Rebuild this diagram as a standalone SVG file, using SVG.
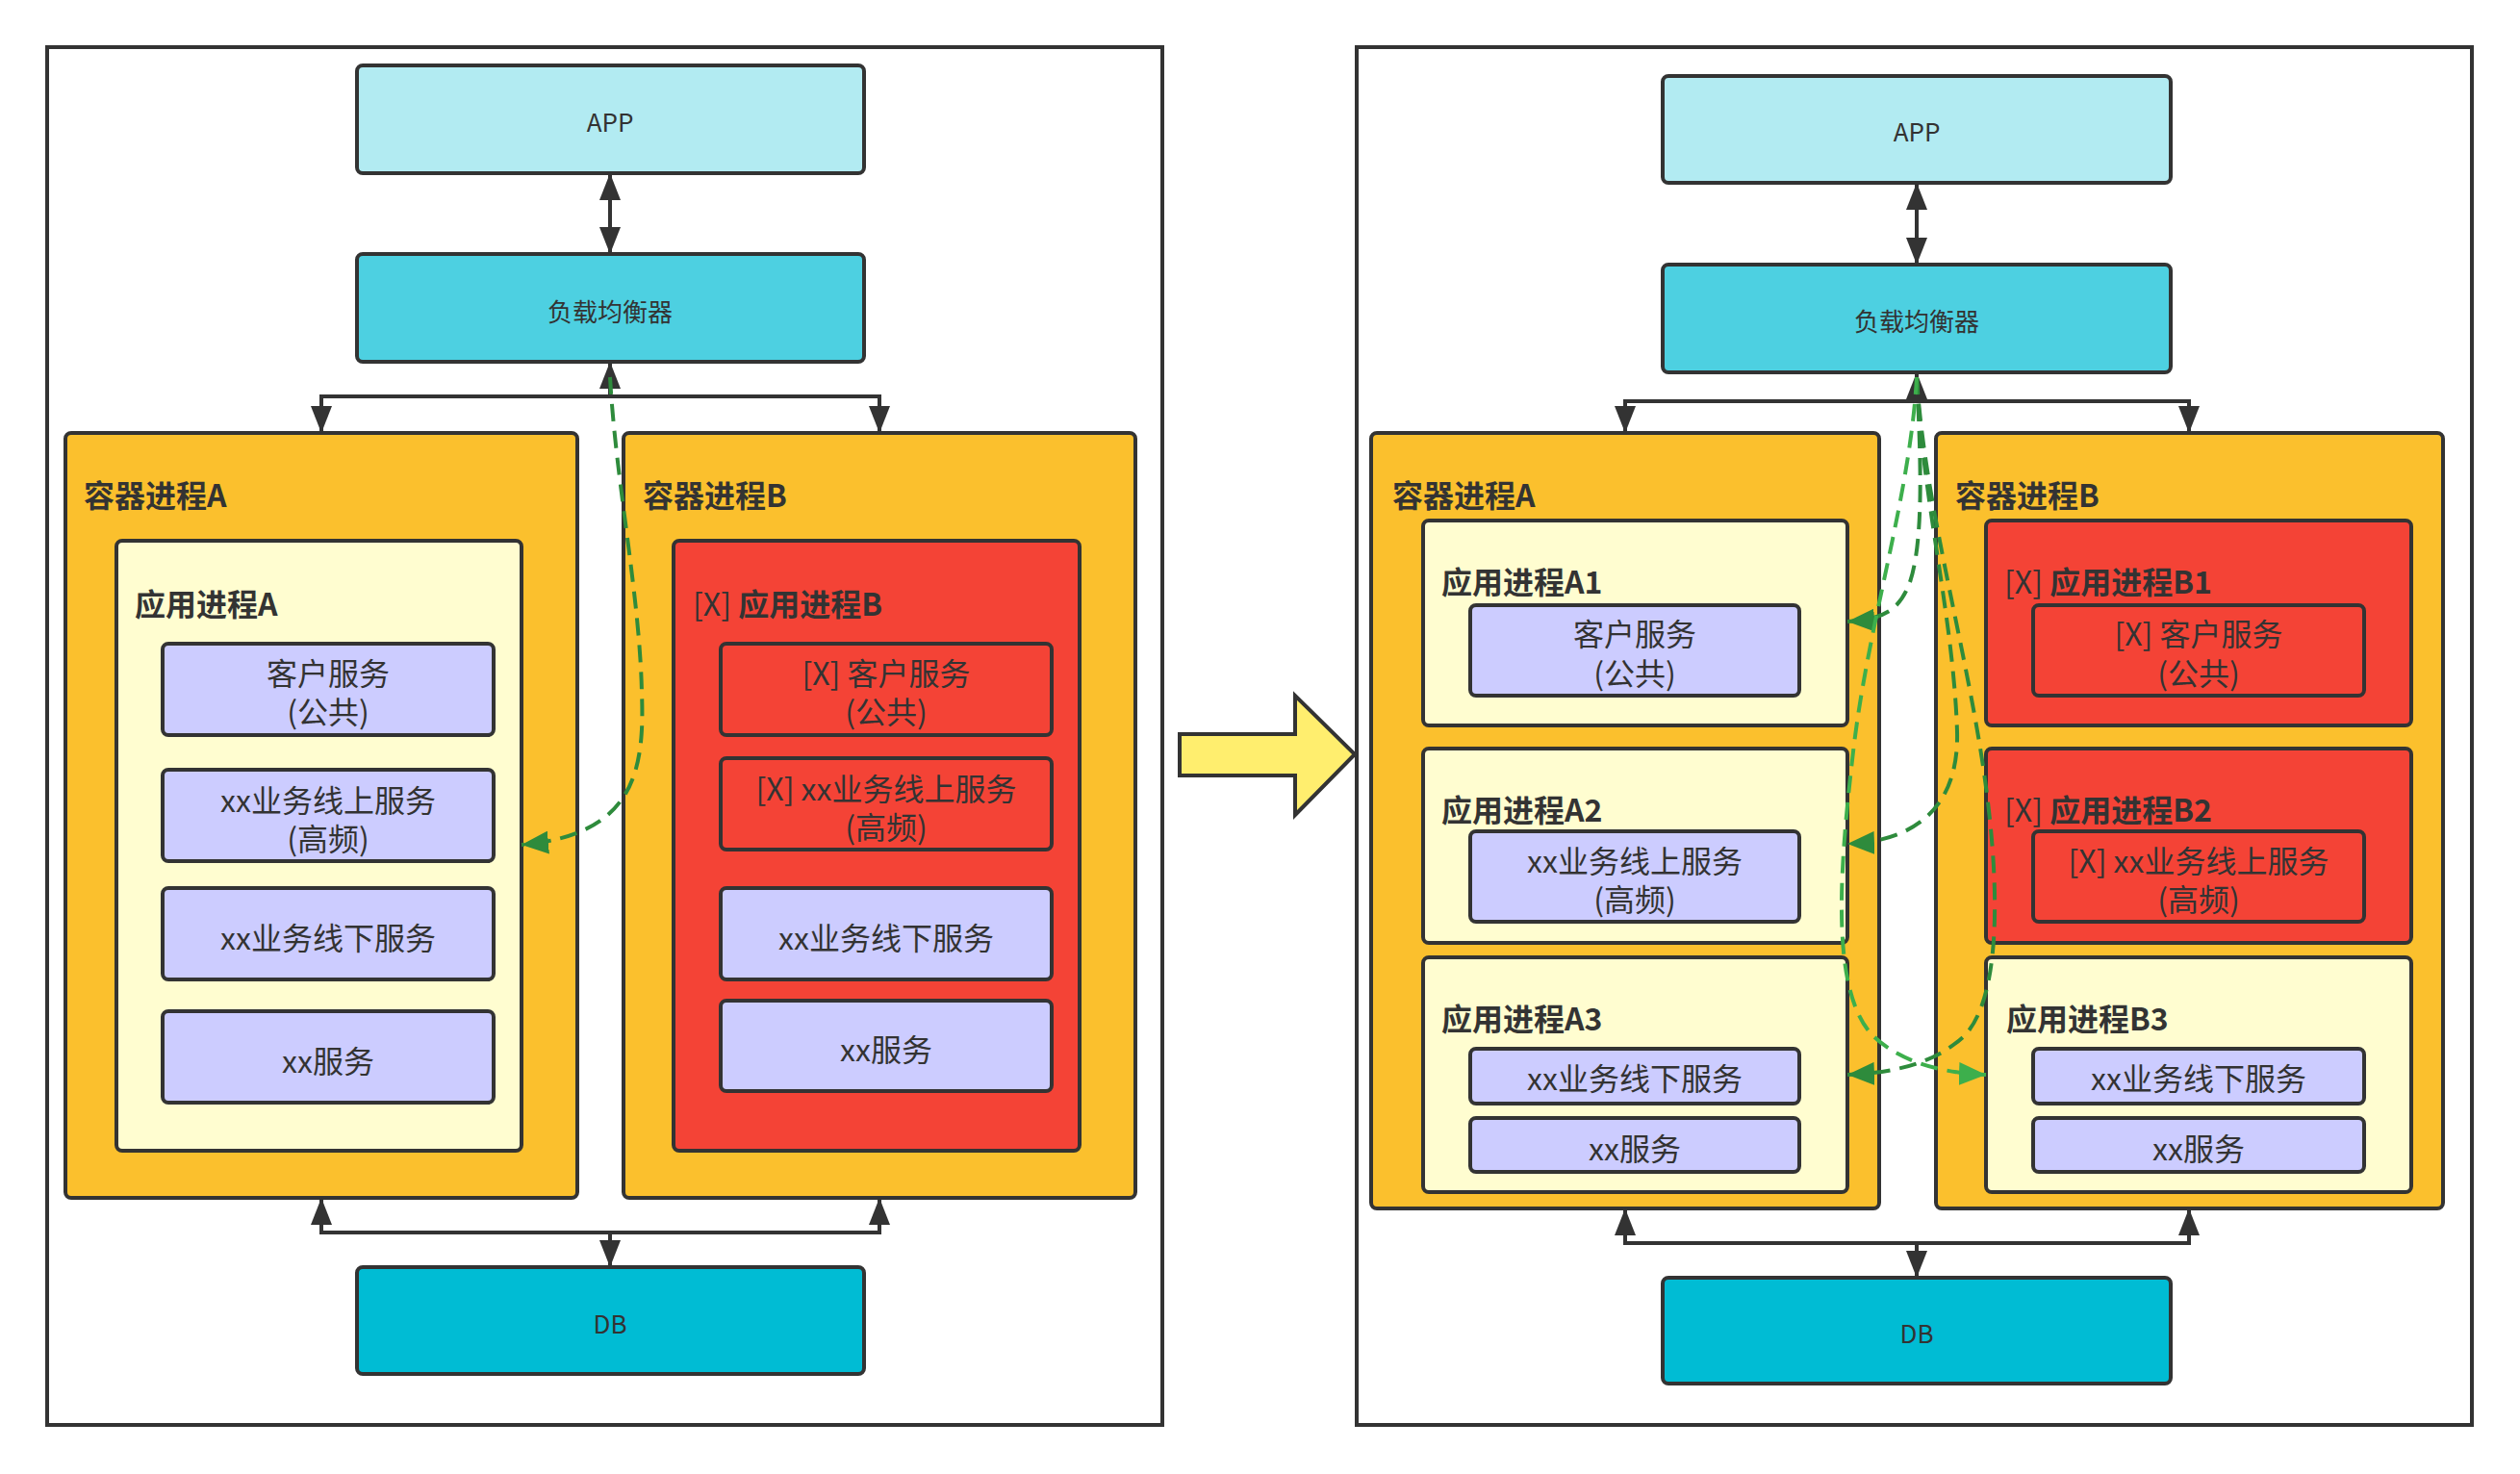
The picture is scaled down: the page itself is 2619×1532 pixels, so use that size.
<svg xmlns="http://www.w3.org/2000/svg" width="2619" height="1532" viewBox="0 0 2619 1532">
<style>
.frame{fill:#fff;stroke:#333;stroke-width:4}
.node{stroke:#333;stroke-width:4}
.app-top{fill:#B2EBF2}
.lb{fill:#4DD0E1}
.db{fill:#00BCD4}
.cont{fill:#FBC02D}
.proc{fill:#FFFDD0}
.red{fill:#F44336}
.svc{fill:#CCCCFF}
.t{font-family:"Noto Sans CJK SC","Noto Sans",sans-serif;fill:#333}
.small{font-size:26px;text-anchor:middle}
.svct{font-size:32px;text-anchor:middle}
.lbl{font-size:32px;font-weight:bold}
.conn{fill:none;stroke:#333;stroke-width:4}
.g1{fill:none;stroke:#2E8B3C;stroke-width:4;stroke-dasharray:18 10}
.g2{fill:none;stroke:#3DAF4C;stroke-width:4;stroke-dasharray:18 10}
</style>
<defs>
<marker id="ah" viewBox="0 0 28 22" refX="28" refY="11" markerWidth="28" markerHeight="22" markerUnits="userSpaceOnUse" orient="auto-start-reverse"><path d="M0,0 L28,11 L0,22 Z" fill="#333"/></marker>
<marker id="ahg1" viewBox="0 0 28 24" refX="28" refY="12" markerWidth="28" markerHeight="24" markerUnits="userSpaceOnUse" orient="auto"><path d="M0,0 L28,12 L0,24 Z" fill="#2E8B3C"/></marker>
<marker id="ahg2" viewBox="0 0 28 24" refX="28" refY="12" markerWidth="28" markerHeight="24" markerUnits="userSpaceOnUse" orient="auto"><path d="M0,0 L28,12 L0,24 Z" fill="#3DAF4C"/></marker>
</defs>
<rect width="2619" height="1532" fill="#fff"/>

<rect id="frame-left" class="frame" x="49" y="49" width="1159" height="1432"/>
<rect id="frame-right" class="frame" x="1410" y="49" width="1159" height="1432"/>

<g id="transition-arrow">
<polygon points="1226,763 1346,763 1346,723 1408,784 1346,847 1346,806 1226,806" fill="#FFEE6E" stroke="#333" stroke-width="4"/>
</g>

<!-- LEFT PANEL NODES -->
<g id="L-app"><rect class="node app-top" x="371" y="68" width="527" height="112" rx="6"/><text class="t small" x="634" y="137">APP</text></g>
<g id="L-lb"><rect class="node lb" x="371" y="264" width="527" height="112" rx="6"/><text class="t small" x="634" y="334">负载均衡器</text></g>
<g id="L-db"><rect class="node db" x="371" y="1317" width="527" height="111" rx="6"/><text class="t small" x="634" y="1386">DB</text></g>

<g id="L-containerA"><rect class="node cont" x="68" y="450" width="532" height="795" rx="6"/><text class="t lbl" x="87" y="527">容器进程A</text></g>
<g id="L-containerB"><rect class="node cont" x="648" y="450" width="532" height="795" rx="6"/><text class="t lbl" x="668" y="527">容器进程B</text></g>

<g id="L-procA"><rect class="node proc" x="121" y="562" width="421" height="634" rx="6"/><text class="t lbl" x="140" y="640">应用进程A</text></g>
<g id="L-procA-s1"><rect class="node svc" x="169" y="669" width="344" height="95" rx="6"/><text class="t svct" x="341" y="712">客户服务</text><text class="t svct" x="341" y="752">(公共)</text></g>
<g id="L-procA-s2"><rect class="node svc" x="169" y="800" width="344" height="95" rx="6"/><text class="t svct" x="341" y="844">xx业务线上服务</text><text class="t svct" x="341" y="884">(高频)</text></g>
<g id="L-procA-s3"><rect class="node svc" x="169" y="923" width="344" height="95" rx="6"/><text class="t svct" x="341" y="987">xx业务线下服务</text></g>
<g id="L-procA-s4"><rect class="node svc" x="169" y="1051" width="344" height="95" rx="6"/><text class="t svct" x="341" y="1115">xx服务</text></g>

<g id="L-procB"><rect class="node red" x="700" y="562" width="422" height="634" rx="6"/><text class="t lbl" x="720" y="640" style="font-weight:normal">[X] <tspan font-weight="bold">应用进程B</tspan></text></g>
<g id="L-procB-s1"><rect class="node red" x="749" y="669" width="344" height="95" rx="6"/><text class="t svct" x="921" y="712">[X] 客户服务</text><text class="t svct" x="921" y="752">(公共)</text></g>
<g id="L-procB-s2"><rect class="node red" x="749" y="788" width="344" height="95" rx="6"/><text class="t svct" x="921" y="832">[X] xx业务线上服务</text><text class="t svct" x="921" y="872">(高频)</text></g>
<g id="L-procB-s3"><rect class="node svc" x="749" y="923" width="344" height="95" rx="6"/><text class="t svct" x="921" y="987">xx业务线下服务</text></g>
<g id="L-procB-s4"><rect class="node svc" x="749" y="1040" width="344" height="94" rx="6"/><text class="t svct" x="921" y="1103">xx服务</text></g>

<!-- RIGHT PANEL NODES -->
<g id="R-app"><rect class="node app-top" x="1728" y="79" width="528" height="111" rx="6"/><text class="t small" x="1992" y="147">APP</text></g>
<g id="R-lb"><rect class="node lb" x="1728" y="275" width="528" height="112" rx="6"/><text class="t small" x="1992" y="344">负载均衡器</text></g>
<g id="R-db"><rect class="node db" x="1728" y="1328" width="528" height="110" rx="6"/><text class="t small" x="1992" y="1396">DB</text></g>

<g id="R-containerA"><rect class="node cont" x="1425" y="450" width="528" height="806" rx="6"/><text class="t lbl" x="1447" y="527">容器进程A</text></g>
<g id="R-containerB"><rect class="node cont" x="2012" y="450" width="527" height="806" rx="6"/><text class="t lbl" x="2032" y="527">容器进程B</text></g>

<g id="R-procA1"><rect class="node proc" x="1479" y="541" width="441" height="213" rx="6"/><text class="t lbl" x="1498" y="617">应用进程A1</text></g>
<g id="R-procA1-s1"><rect class="node svc" x="1528" y="629" width="342" height="94" rx="6"/><text class="t svct" x="1699" y="671">客户服务</text><text class="t svct" x="1699" y="712">(公共)</text></g>
<g id="R-procA2"><rect class="node proc" x="1479" y="778" width="441" height="202" rx="6"/><text class="t lbl" x="1498" y="854">应用进程A2</text></g>
<g id="R-procA2-s1"><rect class="node svc" x="1528" y="864" width="342" height="94" rx="6"/><text class="t svct" x="1699" y="907">xx业务线上服务</text><text class="t svct" x="1699" y="947">(高频)</text></g>
<g id="R-procA3"><rect class="node proc" x="1479" y="995" width="441" height="244" rx="6"/><text class="t lbl" x="1498" y="1071">应用进程A3</text></g>
<g id="R-procA3-s1"><rect class="node svc" x="1528" y="1090" width="342" height="57" rx="6"/><text class="t svct" x="1699" y="1133">xx业务线下服务</text></g>
<g id="R-procA3-s2"><rect class="node svc" x="1528" y="1162" width="342" height="56" rx="6"/><text class="t svct" x="1699" y="1206">xx服务</text></g>

<g id="R-procB1"><rect class="node red" x="2064" y="541" width="442" height="213" rx="6"/><text class="t lbl" x="2083" y="617" style="font-weight:normal">[X] <tspan font-weight="bold">应用进程B1</tspan></text></g>
<g id="R-procB1-s1"><rect class="node red" x="2113" y="629" width="344" height="94" rx="6"/><text class="t svct" x="2285" y="671">[X] 客户服务</text><text class="t svct" x="2285" y="712">(公共)</text></g>
<g id="R-procB2"><rect class="node red" x="2064" y="778" width="442" height="202" rx="6"/><text class="t lbl" x="2083" y="854" style="font-weight:normal">[X] <tspan font-weight="bold">应用进程B2</tspan></text></g>
<g id="R-procB2-s1"><rect class="node red" x="2113" y="864" width="344" height="94" rx="6"/><text class="t svct" x="2285" y="907">[X] xx业务线上服务</text><text class="t svct" x="2285" y="947">(高频)</text></g>
<g id="R-procB3"><rect class="node proc" x="2064" y="995" width="442" height="244" rx="6"/><text class="t lbl" x="2085" y="1071">应用进程B3</text></g>
<g id="R-procB3-s1"><rect class="node svc" x="2113" y="1090" width="344" height="57" rx="6"/><text class="t svct" x="2285" y="1133">xx业务线下服务</text></g>
<g id="R-procB3-s2"><rect class="node svc" x="2113" y="1162" width="344" height="56" rx="6"/><text class="t svct" x="2285" y="1206">xx服务</text></g>

<g id="connectors">
<path class="conn" d="M634,180 V264" marker-start="url(#ah)" marker-end="url(#ah)"/>
<path class="conn" d="M634,376 V412 H334 V450" marker-start="url(#ah)" marker-end="url(#ah)"/>
<path class="conn" d="M634,412 H914 V450" marker-end="url(#ah)"/>
<path class="conn" d="M334,1245 V1281 H634 V1317" marker-start="url(#ah)" marker-end="url(#ah)"/>
<path class="conn" d="M914,1245 V1281 H634" marker-start="url(#ah)"/>
<path class="g1" d="M634,392 C640,500 665,620 667,720 C670,800 660,868 542,878" marker-end="url(#ahg1)"/>
<path class="conn" d="M1992,190 V275" marker-start="url(#ah)" marker-end="url(#ah)"/>
<path class="conn" d="M1992,387 V417 H1689 V450" marker-start="url(#ah)" marker-end="url(#ah)"/>
<path class="conn" d="M1992,417 H2275 V450" marker-end="url(#ah)"/>
<path class="conn" d="M1689,1256 V1292 H1992 V1328" marker-start="url(#ah)" marker-end="url(#ah)"/>
<path class="conn" d="M2275,1256 V1292 H1992" marker-start="url(#ah)"/>
<path class="g1" d="M1992,392 C1996,470 2000,560 1985,605 C1975,632 1960,644 1920,646" marker-end="url(#ahg1)"/>
<path class="g1" d="M1992,392 C1998,520 2030,640 2034,760 C2036,830 2000,874 1920,877" marker-end="url(#ahg1)"/>
<path class="g1" d="M1992,392 C2000,520 2040,660 2060,790 C2080,920 2080,1040 2040,1078 C2010,1105 1970,1115 1920,1117" marker-end="url(#ahg1)"/>
<path class="g2" d="M1992,392 C1985,520 1940,650 1925,790 C1910,920 1905,1030 1945,1075 C1970,1100 2010,1115 2064,1117" marker-end="url(#ahg2)"/>
</g>
</svg>
